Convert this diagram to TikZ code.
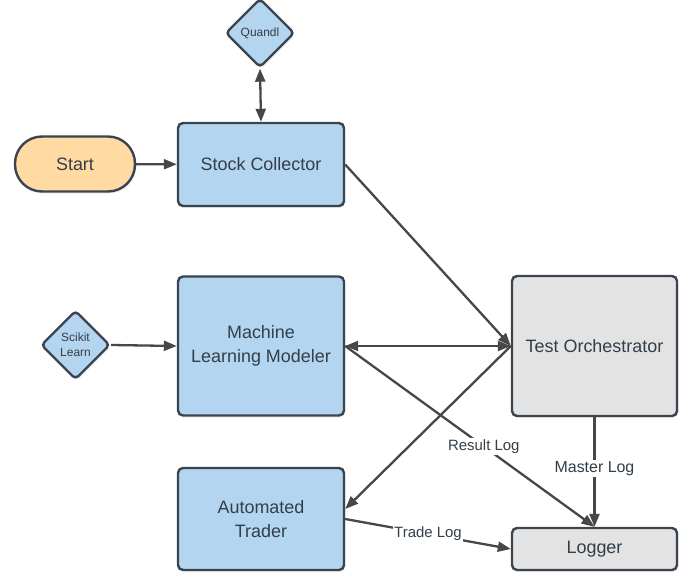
\documentclass[tikz,border=0pt]{standalone}
\usepackage{fontspec}
\setmainfont{Liberation Sans}
\usetikzlibrary{shapes.geometric,arrows.meta,shadows}
\definecolor{boxblue}{HTML}{B4D5EF}
\definecolor{boxorange}{HTML}{FFDAA3}
\definecolor{boxgray}{HTML}{E3E3E3}
\definecolor{edgecol}{HTML}{3A4450}
\definecolor{linecol}{HTML}{474747}
\definecolor{txtcol}{HTML}{333E48}
\tikzset{
  shade/.style={drop shadow={opacity=0.12,shadow xshift=1.5bp,shadow yshift=-2bp}},
  procbox/.style={draw=edgecol,line width=2.4bp,rounded corners=5bp,fill=boxblue,shade,
    text=txtcol,font=\fontsize{18}{24}\selectfont,align=center,inner sep=0pt},
  graybox/.style={procbox,fill=boxgray},
  startbox/.style={draw=edgecol,line width=2.4bp,rounded corners=27bp,fill=boxorange,shade,
    text=txtcol,font=\fontsize{18}{24}\selectfont,inner sep=0pt,
    minimum width=120bp,minimum height=55bp},
  datadia/.style={diamond,aspect=1,draw=edgecol,line width=2.4bp,rounded corners=4bp,fill=boxblue,shade,
    text=txtcol,font=\fontsize{12}{15.5}\selectfont,align=center,inner sep=0pt,
    minimum width=69bp,minimum height=69bp},
  conn/.style={draw=linecol,line width=2.3bp,-{Triangle[length=13bp,width=10bp]}},
  biconn/.style={conn,{Triangle[length=13bp,width=10bp]}-{Triangle[length=13bp,width=10bp]}},
  lbl/.style={fill=white,text=txtcol,font=\fontsize{15}{18}\selectfont,inner sep=1.5bp}
}
\begin{document}
\begin{tikzpicture}[x=1bp,y=-1bp]
\useasboundingbox (0,0) rectangle (691,576);
\node[startbox] (start) at (75,164) {Start};
\node[procbox,minimum width=166bp,minimum height=83bp] (stock) at (261,164.5) {Stock Collector};
\node[datadia] (quandl) at (260,33) {Quandl};
\node[procbox,minimum width=166bp,minimum height=139bp] (ml) at (261,346) {Machine\\Learning Modeler};
\node[datadia] (scikit) at (75.5,345) {Scikit\\Learn};
\node[procbox,minimum width=166bp,minimum height=102bp] (trader) at (261,519) {Automated\\Trader};
\node[graybox,minimum width=165bp,minimum height=140bp] (orch) at (594.5,346) {Test Orchestrator};
\node[graybox,minimum width=165bp,minimum height=42bp] (logger) at (594.5,549) {Logger};
\coordinate (tin) at ([yshift=10bp]trader.east);
\draw[conn] (start) -- (stock);
\draw[biconn] (quandl.south) -- (stock.north);
\draw[conn] (stock.east) -- (orch.west);
\draw[conn] (scikit.east) -- (ml.west);
\draw[biconn] (ml.east) -- (orch.west);
\draw[conn] (orch.west) -- (tin);
\draw[conn] (ml.east) -- node[lbl,pos=0.556] {Result Log} (logger.north);
\draw[conn] (orch.south) -- node[lbl,pos=0.47,font=\fontsize{16}{18}\selectfont] {Master Log} (logger.north);
\draw[conn] (trader.east) -- node[lbl,pos=0.5] {Trade Log} (logger.west);
\end{tikzpicture}
\end{document}
